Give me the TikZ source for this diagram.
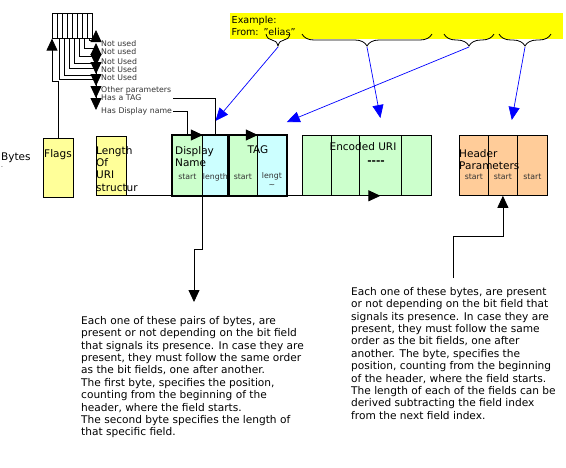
\documentclass[tikz,border=0pt]{standalone}
\usepackage{fontspec}
\setmainfont{DejaVu Sans}
\usetikzlibrary{arrows.meta,decorations.pathreplacing}
\definecolor{flagYellow}{HTML}{FFFF99}
\definecolor{exampleYellow}{HTML}{FFFF00}
\definecolor{nameGreen}{HTML}{CCFFCC}
\definecolor{lenCyan}{HTML}{CCFFFF}
\definecolor{paramOrange}{HTML}{FFCC99}
\definecolor{labelGray}{HTML}{333333}
\tikzset{
  fieldcell/.style={draw, line width=0.8pt, anchor=north west, inner sep=0pt, minimum height=60pt},
  bitcell/.style={draw, line width=0.6pt, anchor=north west, inner sep=0pt, minimum width=5pt, minimum height=25pt},
  boxtext/.style={font=\fontsize{10.5}{12.4}\selectfont, inner sep=0pt, align=left},
  smalltext/.style={font=\fontsize{7.8}{9.5}\selectfont, text=labelGray, inner sep=0pt, align=center},
  bitlabel/.style={font=\fontsize{7.8}{8}\selectfont, text=labelGray, anchor=west, inner sep=0pt, text width=72pt},
  bodytext/.style={font=\fontsize{10.6}{12.4}\selectfont, inner sep=0pt, align=left, anchor=north west},
  blackarrow/.style={line width=0.8pt, -{Triangle[length=12pt,width=11pt]}},
  bluearrow/.style={blue, line width=0.7pt, -{Triangle[length=13pt,width=11pt]}},
  examplebrace/.style={decorate, decoration={brace, mirror, amplitude=12pt}, line width=0.8pt},
}
\begin{document}
\begin{tikzpicture}[x=1pt,y=-1pt]
\useasboundingbox (0,0) rectangle (566,467);

% flag bits
\foreach \k in {1,...,8}
  \node[bitcell] (b\k) at ({52+5*(\k-1)},13) {};

% bit labels
\foreach \lab/\ypos/\txt in {n1/44/Not used, n2/52/Not used, n3/62/Not Used, n4/70/Not Used, n5/78/Not Used, n6/90/Other parameters, tagl/98/Has a TAG, dnl/111/Has Display name}
  \node[bitlabel] (\lab) at (101,\ypos) {\txt};

% fields
\node[anchor=north west, boxtext] (bytes) at (1,153) {Bytes\\[-6pt]{\fontsize{6}{6}\selectfont .}};
\node[fieldcell, fill=flagYellow, minimum width=30pt, minimum height=59pt] (flags) at (43,138) {};
\node[fieldcell, fill=flagYellow, minimum width=30pt, minimum height=59pt] (lenbox) at (96,136) {};
\node[fieldcell, fill=nameGreen, minimum width=30pt] (dstart) at (172,135) {};
\node[fieldcell, fill=lenCyan, minimum width=26pt] (dlen) at (202,135) {};
\node[fieldcell, fill=nameGreen, minimum width=29pt] (tstart) at (228,135) {};
\node[fieldcell, fill=lenCyan, minimum width=29pt] (tlen) at (257,135) {};
\draw[line width=2pt] (dstart.north west) rectangle (dlen.south east);
\draw[line width=2pt] (tstart.north west) rectangle (tlen.south east);
\node[fieldcell, fill=nameGreen, minimum width=29pt] (enc1) at (302,135) {};
\node[fieldcell, fill=nameGreen, minimum width=28pt] (enc2) at (331,135) {};
\node[fieldcell, fill=nameGreen, minimum width=42pt] (enc3) at (359,135) {};
\node[fieldcell, fill=nameGreen, minimum width=30pt] (enc4) at (401,135) {};
\node[fieldcell, fill=paramOrange, minimum width=29pt] (hdr1) at (459,135) {};
\node[fieldcell, fill=paramOrange, minimum width=29pt] (hdr2) at (488,135) {};
\node[fieldcell, fill=paramOrange, minimum width=30pt] (hdr3) at (517,135) {};

% field texts
\node[boxtext, anchor=base] at (58,157) {Flags};
\node[boxtext, anchor=north west] at (96,146) {Length\\Of\\URI\\structur};
\node[boxtext, anchor=north west] at (175,146) {Display\\Name};
\node[boxtext, anchor=north] at (258,146) {TAG};
\node[boxtext, anchor=north] at (363,142) {Encoded URI};
\node[boxtext] at (376,163) {\textbf{{-}{-}{-}{-}}};
\node[boxtext, anchor=north west] at (459,149) {Header\\Parameters};
\node[smalltext] at (dstart.center |- 0,177) {start};
\node[smalltext] at (dlen.center |- 0,177) {length};
\node[smalltext] at (tstart.center |- 0,177) {start};
\node[smalltext] at (tlen.center |- 0,180) {lengt\\\textasciitilde};
\foreach \h in {hdr1,hdr2,hdr3}
  \node[smalltext] at (\h.center |- 0,177) {start};

% example
\node[fill=exampleYellow, anchor=north west, text width=330pt, minimum height=26pt,
  inner xsep=1.5pt, inner ysep=0pt, align=left, font=\fontsize{9.6}{12}\selectfont]
  (example) at (230,13) {Example:\\From: "elias"};
\draw[examplebrace] (266,34) -- (290,34) coordinate[midway] (br1);
\draw[examplebrace] (302,34) -- (432,34) coordinate[midway] (br2);
\draw[examplebrace] (444,34) -- (494,34) coordinate[midway] (br3);
\draw[examplebrace] (499,34) -- (551,34) coordinate[midway] (br4);
\draw[bluearrow] ([yshift=-13pt]br1) -- ([yshift=14pt]dlen.north);
\draw[bluearrow] ([yshift=-13pt]br2) -- ([yshift=17pt]enc3.north);
\draw[bluearrow] ([yshift=-13pt]br3) -- ([yshift=13pt]tlen.north east);
\draw[bluearrow] ([yshift=-13pt]br4) -- ([xshift=-6pt,yshift=15pt]hdr2.north east);

% bit connectors
\draw[blackarrow] (flags.north) |- ([yshift=-43pt]b1.south west) -- (b1.south west);
\foreach \k/\lab/\yh/\dy in {8/n1/40/14, 7/n2/48/9, 6/n3/56/-4, 5/n4/63/-4, 4/n5/68/-8, 3/n6/75/-8, 2/tagl/79/-12}
  \draw[blackarrow] (b\k.south) |- (96,\yh) -- ([xshift=-5pt,yshift=\dy pt]\lab.west);
\draw[blackarrow] (dnl.east) -| (dstart.north) -- (dstart.north east);
\draw[blackarrow] (tagl.east) -| (dlen.north) -- (tstart.north east);
\draw[blackarrow] (lenbox.south) -- (enc3.south);

% notes
\node[bodytext] (ltext) at (81,316) {Each one of these pairs of bytes, are\\
present or not depending on the bit field\\
that signals its presence. In case they are\\
present, they must follow the same order\\
as the bit fields, one after another.\\
The first byte, specifies the position,\\
counting from the beginning of the\\
header, where the field starts.\\
The second byte specifies the length of\\
that specific field.};
\node[bodytext] (rtext) at (351,287) {Each one of these bytes, are present\\
or not depending on the bit field that\\
signals its presence. In case they are\\
present, they must follow the same\\
order as the bit fields, one after\\
another. The byte, specifies the\\
position, counting from the beginning\\
of the header, where the field starts.\\
The length of each of the fields can be\\
derived subtracting the field index\\
from the next field index.};
\draw[blackarrow] (dstart.south east) -- ++(0,54) -| ([shift={(113,-14)}]ltext.north west);
\draw[blackarrow] ([shift={(102,-9)}]rtext.north west) -- ++(0,-42) -| (hdr2.south);
\end{tikzpicture}
\end{document}
